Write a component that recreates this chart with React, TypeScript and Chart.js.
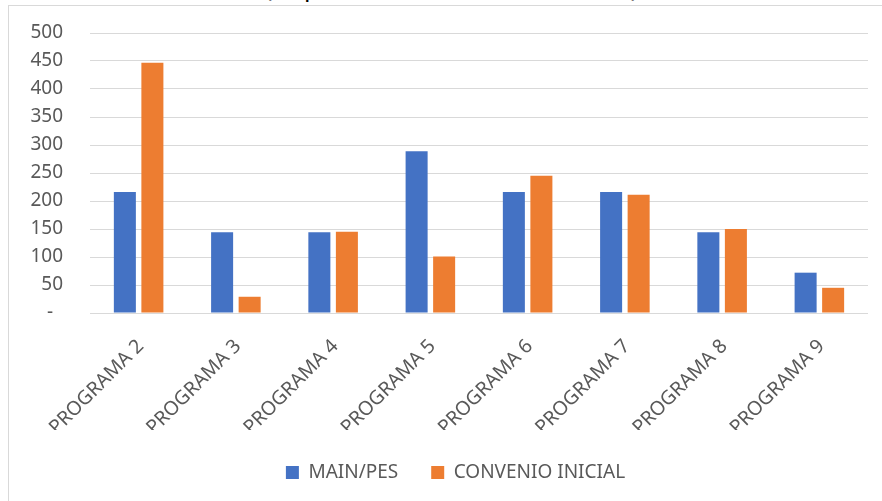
import React, { useEffect, useRef } from "react";
import { Chart, registerables } from "chart.js";

Chart.register(...registerables);

const categories = [
  "PROGRAMA 2",
  "PROGRAMA 3",
  "PROGRAMA 4",
  "PROGRAMA 5",
  "PROGRAMA 6",
  "PROGRAMA 7",
  "PROGRAMA 8",
  "PROGRAMA 9",
];
const mainPes = [216, 144, 144, 289, 216, 216, 144, 72];
const convenioInicial = [447, 29, 145, 101, 245, 211, 150, 45];
const seriesNames = ["MAIN/PES", "CONVENIO INICIAL"];
const titleText = "(Importes en millones de euros)";

const FONT = "'Noto Sans', 'Open Sans', sans-serif";
const TEXT = "#595959";

export default function App() {
  const ref = useRef<HTMLCanvasElement | null>(null);

  useEffect(() => {
    if (!ref.current) return;
    const chart = new Chart(ref.current, {
      type: "bar",
      data: {
        labels: categories,
        datasets: [
          {
            label: seriesNames[0],
            data: mainPes,
            backgroundColor: "#4472C4",
            borderWidth: 0,
            categoryPercentage: 0.566,
            barPercentage: 0.8,
          },
          {
            label: seriesNames[1],
            data: convenioInicial,
            backgroundColor: "#ED7D31",
            borderWidth: 0,
            categoryPercentage: 0.566,
            barPercentage: 0.8,
          },
        ],
      },
      options: {
        animation: false,
        responsive: false,
        devicePixelRatio: 1,
        layout: { padding: { top: 33, bottom: 9, left: 0, right: 0 } },
        plugins: {
          title: { display: false },
          tooltip: { enabled: false },
          legend: {
            position: "bottom",
            labels: {
              boxWidth: 13,
              boxHeight: 13,
              padding: 33,
              color: TEXT,
              font: { family: FONT, size: 19 },
            },
          },
        },
        scales: {
          x: {
            grid: { display: false },
            border: { display: false },
            ticks: {
              autoSkip: false,
              maxRotation: 45,
              minRotation: 45,
              color: TEXT,
              font: { family: FONT, size: 19.5 },
              padding: 14,
              labelOffset: 2,
            },
            afterFit: (s: any) => {
              s.height = 117;
            },
          },
          y: {
            min: 0,
            max: 500,
            border: { display: false },
            grid: {
              color: "#D9D9D9",
              lineWidth: 1,
              drawTicks: true,
              tickLength: 27,
              tickColor: "rgba(0,0,0,0)",
            },
            ticks: {
              stepSize: 50,
              padding: 0,
              color: TEXT,
              font: { family: FONT, size: 19 },
              callback: (v: any) => (Number(v) === 0 ? "-  " : String(v)),
            },
            afterFit: (s: any) => {
              s.width = 90;
            },
          },
          y2: {
            type: "linear",
            position: "right",
            display: true,
            grid: { display: false, drawTicks: false },
            border: { display: false },
            ticks: { display: false },
            afterFit: (s: any) => {
              s.width = 43;
            },
          },
        },
      },
    });
    return () => chart.destroy();
  }, []);

  return (
    <div
      style={{
        position: "absolute",
        left: 0,
        top: 0,
        width: 882,
        height: 501,
        overflow: "hidden",
        background: "#fff",
      }}
    >
      <div
        style={{
          position: "absolute",
          left: 0,
          top: -26,
          width: 903,
          textAlign: "center",
          fontFamily: FONT,
          fontSize: 25,
          lineHeight: "25px",
          color: "#000",
          whiteSpace: "nowrap",
        }}
      >
        {titleText}
      </div>
      <div
        style={{
          position: "absolute",
          left: 8,
          top: 5,
          width: 1000,
          height: 1000,
          border: "1px solid #D9D9D9",
          boxSizing: "border-box",
        }}
      />
      <canvas
        ref={ref}
        width={911}
        height={501}
        style={{ position: "absolute", left: 0, top: 0, width: 911, height: 501 }}
      />
    </div>
  );
}
